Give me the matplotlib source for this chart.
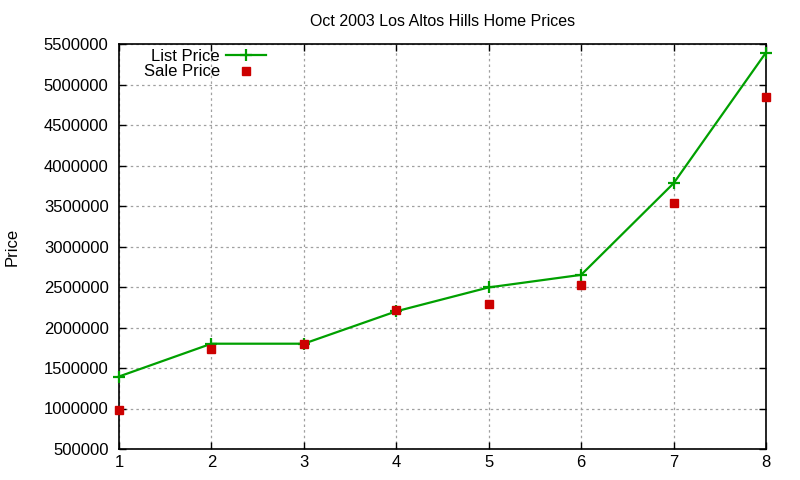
import matplotlib.pyplot as plt

plt.rcParams['font.family'] = ['Liberation Sans', 'DejaVu Sans']

# data
houses = [1, 2, 3, 4, 5, 6, 7, 8]
list_price = [1395000, 1800000, 1800000, 2200000, 2495000, 2650000, 3780000, 5395000]
sale_price = [980000, 1740000, 1800000, 2215000, 2290000, 2525000, 3540000, 4840000]
y_ticks = [500000, 1000000, 1500000, 2000000, 2500000, 3000000, 3500000,
           4000000, 4500000, 5000000, 5500000]

fig = plt.figure(figsize=(8, 4.8), dpi=100)
ax = fig.add_axes([119 / 800, 1 - 449 / 480, 647 / 800, 405 / 480])

ax.plot(houses, list_price, color='#00a000', lw=1.6, marker='+',
        markersize=8, markeredgewidth=1.6, label='List Price', zorder=3, clip_on=False)
ax.plot(houses, sale_price, ls='none', color='#cc0000', marker='s',
        markersize=6, label='Sale Price', zorder=4, clip_on=False)

ax.set_xlim(1, 8)
ax.set_ylim(500000, 5500000)
ax.set_xticks(houses)
ax.set_yticks(y_ticks)
ax.set_yticklabels([str(v) for v in y_ticks])

ax.grid(True, color='#a0a0a0', lw=0.9, ls=(0, (2, 2.5)))
ax.set_axisbelow(True)
ax.tick_params(direction='in', length=5, width=1, labelsize=12,
               top=True, right=True)
ax.tick_params(axis='y', pad=7.5)
ax.tick_params(axis='x', pad=4)
for s in ax.spines.values():
    s.set_linewidth(1.2)

ax.set_title('Oct 2003 Los Altos Hills Home Prices', fontsize=11.5, pad=13)
fig.text(12 / 800, 1 - 247 / 480, 'Price', rotation=90, fontsize=12,
         ha='center', va='center')

leg = ax.legend(loc='upper left', bbox_to_anchor=(142 / 800, 1 - 47 / 480),
                bbox_transform=fig.transFigure, frameon=False, markerfirst=False,
                fontsize=12, handlelength=2.4, handletextpad=0.4,
                labelspacing=0.05, borderpad=0.1, borderaxespad=0)

fig.savefig('out.png', dpi=100)
